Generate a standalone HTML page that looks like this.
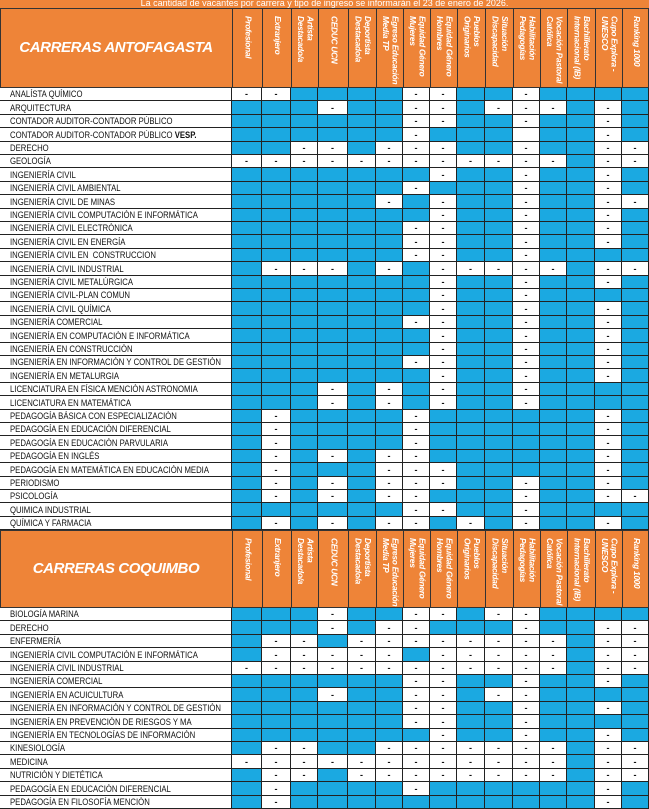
<!DOCTYPE html>
<html><head><meta charset="utf-8">
<style>
*{margin:0;padding:0;box-sizing:border-box}
body{width:649px;height:800px;overflow:hidden;background:#fff;font-family:"Liberation Sans",sans-serif;position:relative}
.a{position:absolute}
.title{left:0;top:0;width:649px;height:8px;background:#ee8438;color:#fff;font-size:9px;line-height:6px;text-align:center;overflow:hidden}
.hdr{background:#ee8438;border:1px solid #333}
.hname{color:#fff;font-weight:bold;font-style:italic;font-size:15px;text-align:center;letter-spacing:-0.4px}
.vt{writing-mode:vertical-rl;color:#fff;font-weight:bold;font-style:italic;font-size:8.4px;line-height:9.5px;letter-spacing:-0.3px;white-space:nowrap;display:flex;align-items:center;justify-content:flex-start;padding-top:8px;text-align:left;overflow:hidden}
.lab{font-size:9px;color:#111;padding-left:10px;white-space:nowrap;overflow:hidden;border-bottom:1px solid #222;border-right:1px solid #222}
.lab span{display:inline-block;transform:scaleX(0.86);transform-origin:left center}
.c{border-right:1px solid #222;border-bottom:1px solid #222;text-align:center;font-size:9px;font-weight:bold;color:#111}
.B{background:#1ba9e1}
</style></head><body>
<div class="a title">La cantidad de vacantes por carrera y tipo de ingreso se informarán el 23 de enero de 2026.</div>
<div id="root"></div>
<script>
var X=[232,262,291,318,348,376,403,430,457,485,513,540,567,595,622,649];
var H=[["Profesional"],["Extranjero"],["Artista","Destacado/a"],["CEDUC UCN"],["Deportista","Destacado/a"],["Egreso Educación","Media TP"],["Equidad Género","Mujeres"],["Equidad Género","Hombres"],["Pueblos","Originarios"],["Situación","Discapacidad"],["Habilitación","Pedagogías"],["Vocación Pastoral","Católica"],["Bachillerato","Internacional (IB)"],["Cupo Explora -","UNESCO"],["Ranking 1000"]];
var A=[
["ANALÍSTA QUÍMICO","DDBBBBDDBBDBBBB"],
["ARQUITECTURA","BBBDBBDDBDDDBDB"],
["CONTADOR AUDITOR-CONTADOR PÚBLICO","BBBBBBDDBBDBBDB"],
["CONTADOR AUDITOR-CONTADOR PÚBLICO <b>VESP.</b>","BBBBBBDBBBWBBDB"],
["DERECHO","BBDDBDDDBBDBBDD"],
["GEOLOGÍA","DDDDDDDDDDDDBDD"],
["INGENIERÍA CIVIL","BBBBBBBDBBDBBDB"],
["INGENIERÍA CIVIL AMBIENTAL","BBBBBBDBBBDBBDB"],
["INGENIERÍA CIVIL DE MINAS","BBBBBDBDBBDBBDD"],
["INGENIERÍA CIVIL COMPUTACIÓN E INFORMÁTICA","BBBBBBBDBBDBBDB"],
["INGENIERÍA CIVIL ELECTRÓNICA","BBBBBBDDBBDBBDB"],
["INGENIERÍA CIVIL EN ENERGÍA","BBBBBBDDBBDBBDB"],
["INGENIERÍA CIVIL EN &nbsp;CONSTRUCCION","BBBBBBDDBBDBBBB"],
["INGENIERÍA CIVIL INDUSTRIAL","BDDDBDBDDDDDBDD"],
["INGENIERÍA CIVIL METALÚRGICA","BBBBBBBDBBDBBDB"],
["INGENIERÍA CIVIL-PLAN COMUN","BBBBBBBDBBDBBBB"],
["INGENIERÍA CIVIL QUÍMICA","BBBBBBBDBBDBBDB"],
["INGENIERÍA COMERCIAL","BBBBBBDDBBDBBDB"],
["INGENIERÍA EN COMPUTACIÓN E INFORMÁTICA","BBBBBBBDBBDBBDB"],
["INGENIERÍA EN CONSTRUCCIÓN","BBBBBBBDBBDBBDB"],
["INGENIERÍA EN INFORMACIÓN Y CONTROL DE GESTIÓN","BBBBBBDDBBDBBDB"],
["INGENIERÍA EN METALURGIA","BBBBBBBDBBDBBDB"],
["LICENCIATURA EN FÍSICA MENCIÓN ASTRONOMIA","BBBDBDBDBBDBBBB"],
["LICENCIATURA EN MATEMÁTICA","BBBDBDBDBBDBBBB"],
["PEDAGOGÍA BÁSICA CON ESPECIALIZACIÓN","BDBBBBDBBBBBBDB"],
["PEDAGOGÍA EN EDUCACIÓN DIFERENCIAL","BDBBBBDBBBBBBDB"],
["PEDAGOGÍA EN EDUCACIÓN PARVULARIA","BDBBBBDBBBBBBDB"],
["PEDAGOGÍA EN INGLÉS","BDBDBDDBBBBBBDB"],
["PEDAGOGÍA EN MATEMÁTICA EN EDUCACIÓN MEDIA","BDBBBDDDBBBBBDB"],
["PERIODISMO","BDBDBDDDBBDBBDB"],
["PSICOLOGÍA","BDBDBDDBBBDBBDD"],
["QUIMICA INDUSTRIAL","BBBBBBDDBBDBBBB"],
["QUÍMICA Y FARMACIA","BDBDBDDBDBDBBDB"]];
var C=[
["BIOLOGÍA MARINA","BBBDBBDDBDDBBBB"],
["DERECHO","BBBDBDDBBBDBBDD"],
["ENFERMERÍA","BDDBDDDDDDDDBDD"],
["INGENIERÍA CIVIL COMPUTACIÓN E INFORMÁTICA","BDDDDDBDDDDDBDD"],
["INGENIERÍA CIVIL INDUSTRIAL","DDDDDDDDDDDDBDD"],
["INGENIERÍA COMERCIAL","BBBBBBDDBBDBBDB"],
["INGENIERÍA EN ACUICULTURA","BBBDBBDDBDDBBBB"],
["INGENIERÍA EN INFORMACIÓN Y CONTROL DE GESTIÓN","BBBBBBDDBBDBBDB"],
["INGENIERÍA EN PREVENCIÓN DE RIESGOS Y MA","BBBBBBDDBBDBBBB"],
["INGENIERÍA EN TECNOLOGÍAS DE INFORMACIÓN","BBBBBBBDBBDBBDB"],
["KINESIOLOGÍA","BDDBBDDDDDDDBDD"],
["MEDICINA","DDDDDDDDDDDDBDD"],
["NUTRICIÓN Y DIETÉTICA","BDDBDDDDDDDDBDD"],
["PEDAGOGÍA EN EDUCACIÓN DIFERENCIAL","BDBBBBDBBBBBBDB"],
["PEDAGOGÍA EN FILOSOFÍA MENCIÓN","BDBBBBBBBBBBBDB"]];
var h="";
function header(y0,y1,name){
 h+='<div class="a hdr" style="left:0;top:'+y0+'px;width:649px;height:'+(y1-y0)+'px"></div>';
 h+='<div class="a hname" style="left:0;top:'+(y0+(y1-y0)/2-10)+'px;width:232px;line-height:20px">'+name+'</div>';
 for(var i=0;i<15;i++){
  h+='<div class="a" style="left:'+X[i]+'px;top:'+y0+'px;width:1px;height:'+(y1-y0)+'px;background:#333"></div>';
  h+='<div class="a vt" style="left:'+(X[i]+1)+'px;top:'+y0+'px;width:'+(X[i+1]-X[i]-1)+'px;height:'+(y1-y0)+'px">'+H[i].join('<br>')+'</div>';
 }
}
function rows(y0,rh,data){
 for(var r=0;r<data.length;r++){
  var y=Math.round(y0+r*rh),y2=Math.round(y0+(r+1)*rh);
  h+='<div class="a lab" style="left:0;top:'+y+'px;width:232px;height:'+(y2-y)+'px;line-height:'+(y2-y)+'px"><span>'+data[r][0]+'</span></div>';
  var s=data[r][1];
  for(var i=0;i<15;i++){
   var t=s[i];
   h+='<div class="a c'+(t=="B"?" B":"")+'" style="left:'+X[i]+'px;top:'+y+'px;width:'+(X[i+1]-X[i])+'px;height:'+(y2-y)+'px;line-height:'+(y2-y)+'px">'+(t=="D"?"-":"")+'</div>';
  }
 }
}
header(8,88,"CARRERAS ANTOFAGASTA");
rows(88,13.4,A);
header(530,608,"CARRERAS COQUIMBO");
rows(608,13.4,C);
document.getElementById("root").innerHTML=h;
</script>
</body></html>
